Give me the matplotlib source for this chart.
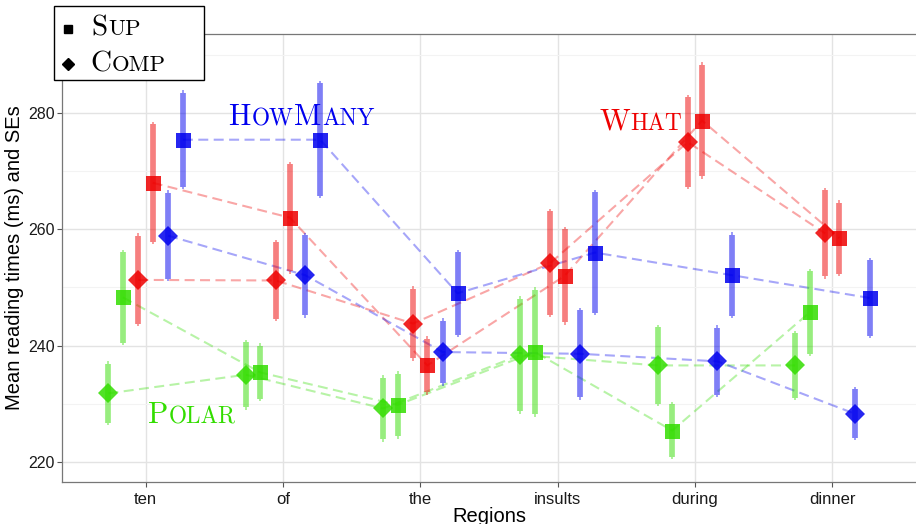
import matplotlib
matplotlib.use('Agg')
import matplotlib.pyplot as plt
import numpy as np
from matplotlib.patches import Rectangle
from matplotlib.lines import Line2D

plt.rcParams['font.family'] = ['Liberation Sans', 'DejaVu Sans']

# ---------------- data ----------------
regions = ['ten', 'of', 'the', 'insults', 'during', 'dinner']
yticks = [220, 240, 260, 280]

polar_comp_mean = [231.8, 235.0, 229.2, 238.4, 236.6, 236.6]
polar_comp_se = [5.5, 6.0, 5.7, 10.1, 7.0, 6.0]
polar_sup_mean = [248.3, 235.4, 229.8, 238.9, 225.4, 245.7]
polar_sup_se = [8.2, 5.0, 5.8, 11.1, 4.9, 7.5]

what_comp_mean = [251.3, 251.2, 243.8, 254.2, 275.0, 259.3]
what_comp_se = [8.0, 7.0, 6.4, 9.3, 8.1, 7.8]
what_sup_mean = [268.0, 262.0, 236.6, 252.0, 278.7, 258.5]
what_sup_se = [10.5, 9.6, 5.0, 8.4, 10.0, 6.5]

howmany_comp_mean = [258.9, 252.1, 238.9, 238.6, 237.3, 228.3]
howmany_comp_se = [7.8, 7.3, 5.8, 7.9, 6.2, 4.6]
howmany_sup_mean = [275.4, 275.4, 249.0, 256.0, 252.1, 248.2]
howmany_sup_se = [8.5, 10.1, 7.5, 10.8, 7.4, 6.9]

# ---------------- style ----------------
W, H = 916, 524
RED = '#EE0000'
GREEN = '#33DD00'
BLUE = '#0000EE'

series = [
    # (means, ses, color, marker, offset)
    (polar_comp_mean, polar_comp_se, GREEN, 'D', -0.27),
    (polar_sup_mean, polar_sup_se, GREEN, 's', -0.165),
    (what_comp_mean, what_comp_se, RED, 'D', -0.052),
    (what_sup_mean, what_sup_se, RED, 's', 0.052),
    (howmany_comp_mean, howmany_comp_se, BLUE, 'D', 0.164),
    (howmany_sup_mean, howmany_sup_se, BLUE, 's', 0.272),
]

fig = plt.figure(figsize=(W / 100, H / 100), dpi=100)
fig.patch.set_facecolor('white')
ax = fig.add_axes([62 / W, 1 - 482 / H, (W - 62) / W, (482 - 34) / H])

xpos = np.arange(len(regions))
tip = 0.4  # data units of thin whisker tip beyond thick bar

for means, ses, col, mk, off in series:
    m = np.array(means)
    s = np.array(ses)
    x = xpos + off
    ax.plot(x, m, ls=(0, (4.8, 2.6)), lw=1.5, color=col, alpha=0.35, zorder=2)
    ax.vlines(x, m - s + tip, m + s - tip, colors=col, lw=4.1, alpha=0.5, zorder=3)
    ax.vlines(x, m + s - tip, m + s, colors=col, lw=1.1, alpha=0.5, zorder=3)
    ax.vlines(x, m - s, m - s + tip, colors=col, lw=1.1, alpha=0.5, zorder=3)
    ms = 10.8 if mk == 's' else 10.2
    ax.plot(x, m, ls='none', marker=mk, ms=ms, color=col, alpha=0.85, mew=0, zorder=4)

ax.set_xlim(-0.608, 5.61)
ax.set_ylim(216.56, 293.57)
ax.set_xticks(xpos)
ax.set_xticklabels(regions)
ax.set_yticks(yticks)
ax.set_yticks([230, 250, 270, 290], minor=True)
ax.grid(True, which='major', color='#e3e3e3', lw=1.0, zorder=0)
ax.grid(True, which='minor', axis='y', color='#f3f3f3', lw=0.8, zorder=0)
ax.set_axisbelow(True)
ax.tick_params(axis='both', which='major', length=3.5, width=0.8, color='#555555',
               labelcolor='#1a1a1a', labelsize=11.5)
ax.tick_params(axis='y', which='major', pad=1.5)
ax.tick_params(axis='x', which='major', pad=3.5, labelsize=12)
ax.tick_params(axis='y', which='minor', length=0)
for sp in ['left', 'bottom', 'top']:
    ax.spines[sp].set_color('#777777')
    ax.spines[sp].set_linewidth(0.9)
ax.spines['right'].set_visible(False)

ax.set_xlabel('Regions', fontsize=14.5, labelpad=0)
ax.set_ylabel('Mean reading times (ms) and SEs', fontsize=14.5, labelpad=3)

renderer = fig.canvas.get_renderer()


def sc_text(x_px, y_px, word, size, color, ratio=0.78, z=10):
    """Draw word in simulated small caps; (x_px, y_px) = left baseline in image px."""
    runs = []
    for ch in word:
        up = ch.isupper()
        if runs and runs[-1][1] == up:
            runs[-1][0] += ch
        else:
            runs.append([ch, up])
    cx = x_px
    for s, up in runs:
        fs = size if up else size * ratio
        t = fig.text(cx / W, 1 - y_px / H, s.upper(), fontsize=fs, family='cmr10',
                     color=color, va='baseline', ha='left', zorder=z)
        bb = t.get_window_extent(renderer)
        cx += bb.width + 1.0


# group labels
sc_text(228, 125, 'HowMany', 21.5, BLUE)
sc_text(599, 130, 'What', 21.5, RED)
sc_text(148, 423, 'Polar', 21.5, GREEN)

# legend box
box = Rectangle((54 / W, 1 - 80 / H), 150 / W, 74 / H, transform=fig.transFigure,
                facecolor='white', edgecolor='black', lw=1.0, zorder=8)
fig.add_artist(box)
fig.add_artist(Line2D([68 / W], [1 - 29 / H], marker='s', ms=5.8, color='black',
                      ls='none', transform=fig.transFigure, zorder=9))
fig.add_artist(Line2D([68 / W], [1 - 64 / H], marker='D', ms=6.0, color='black',
                      ls='none', transform=fig.transFigure, zorder=9))
sc_text(91.7, 35, 'Sup', 21, 'black')
sc_text(90, 71, 'Comp', 21, 'black')

fig.savefig('out.png', dpi=100, facecolor='white')
